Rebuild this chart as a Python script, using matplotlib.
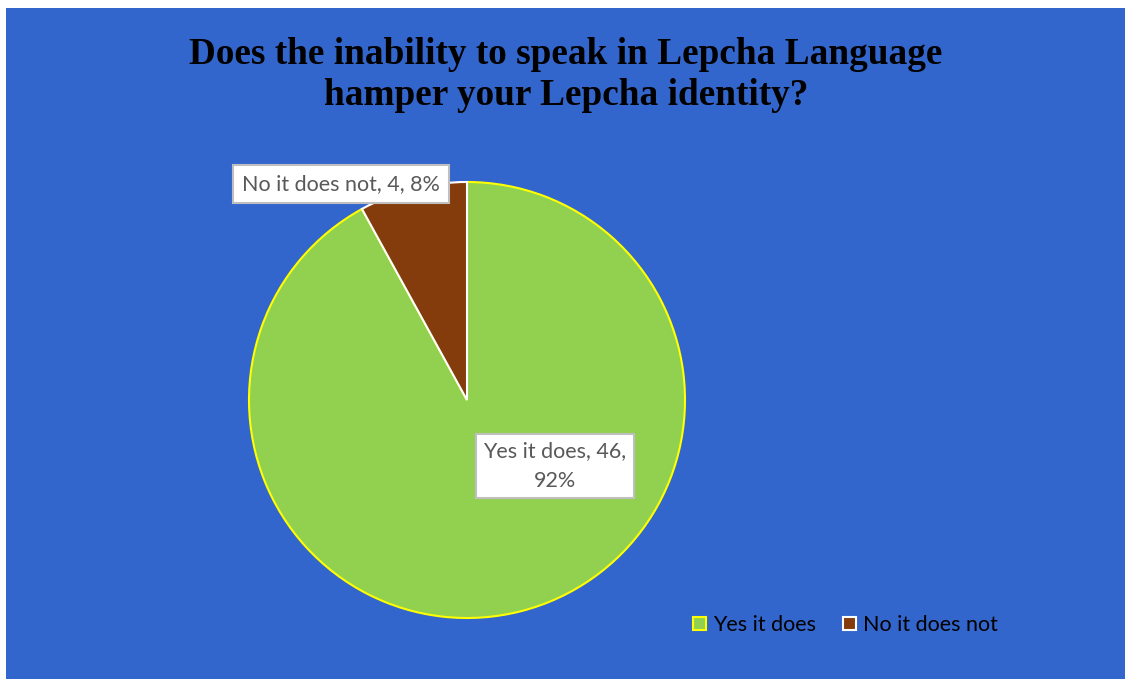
import matplotlib
matplotlib.use("Agg")
import matplotlib.pyplot as plt
from matplotlib.patches import Rectangle

categories = ["Yes it does", "No it does not"]
counts = [46, 4]
percents = ["92%", "8%"]
colors = ["#92D050", "#843C0C"]
edge_colors = ["#FFFF00", "#FFFFFF"]
title = "Does the inability to speak in Lepcha Language\nhamper your Lepcha identity?"

W, H = 1129, 679
fig = plt.figure(figsize=(W / 100, H / 100), dpi=100)
fig.patch.set_facecolor("white")
ax = fig.add_axes([0, 0, 1, 1])

# chart area background
ax.add_patch(Rectangle((6, 8), 1119, 680, facecolor="#3366CC", edgecolor="none", zorder=0))

cx, cy, r = 467, 400, 218
wedges, _ = ax.pie(counts, colors=colors, startangle=-90, counterclock=True,
                   center=(cx, cy), radius=r, frame=True,
                   wedgeprops=dict(linewidth=1.5))
for w, ec in zip(wedges, edge_colors):
    w.set_edgecolor(ec)
    w.set_zorder(2)
ax.set_xlim(0, W)
ax.set_ylim(H, 0)
ax.set_aspect("equal")
ax.axis("off")

ax.text(566, 75, title, ha="center", va="center", fontsize=26.8, fontweight="bold",
        family="Liberation Serif", color="black", linespacing=1.25, zorder=5)

box = dict(boxstyle="square,pad=0.4", facecolor="white", edgecolor="#BFBFBF", linewidth=1.5)
ax.text(341, 184, f"{categories[1]}, {counts[1]}, {percents[1]}", ha="center", va="center",
        fontsize=15.5, family="Lato", color="#595959", bbox=box, zorder=6)
ax.text(555, 466, f"{categories[0]}, {counts[0]},\n{percents[0]}", ha="center", va="center",
        fontsize=15.5, family="Lato", color="#595959", bbox=dict(box, boxstyle="square,pad=0.35"),
        linespacing=1.6, zorder=6)

# legend
for x0, name, col, ec in [(693, categories[0], colors[0], edge_colors[0]),
                          (843, categories[1], colors[1], edge_colors[1])]:
    ax.add_patch(Rectangle((x0, 617), 13, 13, facecolor=col, edgecolor=ec, linewidth=1.5, zorder=6))
    ax.text(x0 + 20, 625, name, ha="left", va="center", fontsize=15.5, family="Lato",
            color="black", zorder=6)

fig.savefig("out.png", dpi=100, facecolor=fig.get_facecolor())
